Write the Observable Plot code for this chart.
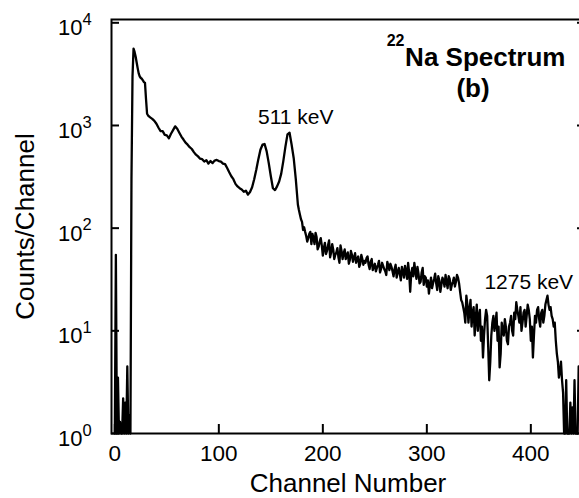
<!DOCTYPE html>
<html><head><meta charset="utf-8">
<script src="https://cdn.jsdelivr.net/npm/d3@7"></script>
<script src="https://cdn.jsdelivr.net/npm/@observablehq/plot@0.6"></script>
<style>
html,body{margin:0;padding:0;background:#fff;overflow:hidden;}
</style></head><body><div id="chart"></div>
<script>
const channels = [
  0,1,2,3,4,5,6,7,8,9,10,11,12,13,14,15,16,17,18,19,20,21,22,23,24,25,26,27,28,29,30,31,32,
  34,36,38,40,42,44,46,48,50,52,
  54,56,58,60,62,64,66,68,70,72,
  74,76,78,80,82,84,86,88,90,92,
  94,96,98,100,102,104,106,108,110,112,
  114,116,118,120,122,124,126,128,130,132,
  134,136,138,140,142,144,146,148,150,152,
  154,156,158,160,162,164,166,168,170,172,
  174,
  176,177,178,179,180,181,182,183,184,185,
  186,187,188,189,190,191,192,193,194,195,
  196,197,198,199,200,201,202,203,204,205,
  206,207,208,209,210,211,212,213,214,215,
  216,217,218,219,220,221,222,223,224,225,
  226,227,228,229,230,231,232,233,234,235,
  236,237,238,239,240,241,242,243,244,245,
  246,247,248,249,250,251,252,253,254,255,
  256,257,258,259,260,261,262,263,264,265,
  266,267,268,269,270,271,272,273,274,275,
  276,277,278,279,280,281,282,283,284,285,
  286,287,288,289,290,291,292,293,294,295,
  296,297,298,299,300,301,302,303,304,305,
  306,307,308,309,310,311,312,313,314,315,
  316,317,318,319,320,321,322,323,324,325,
  326,327,328,329,330,331,332,333,334,335,
  336,337,338,339,340,341,342,343,344,345,
  346,347,348,349,350,351,352,353,354,355,
  356,357,358,359,360,361,362,363,364,365,
  366,367,368,369,370,371,372,373,374,375,
  376,377,378,379,380,381,382,383,384,385,
  386,387,388,389,390,391,392,393,394,395,
  396,397,398,399,400,401,402,403,404,405,
  406,407,408,409,410,411,412,413,414,415,
  416,417,418,419,420,421,422,423,424,425,
  426,427,428,429,430,431,432,433,434,435,
  436,437,438,439,440,441,442,443,444,445,
  446
];
const counts = [
  1,55,1,3.5,1,1.3,1,1,2.2,1,2,1,4.5,1,1.5,1,300,3000,5600,5200,4700,4100,3600,3200,3000,2900,2850,2750,2650,2600,1800,1300,1250,
  1200,1160,1110,1040,950,880,880,810,800,750,
  830,900,980,930,850,780,730,680,650,615,
  590,550,520,500,475,470,445,460,425,450,
  430,455,462,450,445,425,420,385,350,320,
  300,270,255,245,238,226,232,212,225,250,
  300,370,470,580,650,660,560,430,320,245,
  235,255,285,340,450,620,820,850,650,480,
  300,
  170,150,135,122,115,96,102,92,84,74,
  80,88,92,70,88,80,70,90,82,62,
  66,74,80,68,54,64,72,56,60,68,
  76,52,58,70,62,50,55,58,64,52,
  46,68,60,50,57,62,50,54,58,45,
  49,60,55,47,52,57,46,50,53,42,
  45,55,50,44,48,46,51,53,44,40,
  47,50,39,42,45,38,41,44,48,37,
  40,46,43,40,38,35,47,43,39,45,
  42,38,34,40,44,33,37,41,36,31,
  42,38,33,43,38,32,46,37,24,36,
  41,34,46,38,32,42,36,29,30,37,
  41,28,34,33,27,31,23,28,33,26,
  29,32,36,29,25,34,31,24,28,33,
  31,27,35,30,26,34,32,25,28,30,
  33,27,30,35,33,29,24,20,19,17,
  15,12,22,18,12,16,20,11,15,17,
  9,13,18,10,14,16,8,11,5.5,9,
  13,16,14,7,3.3,5,9,12,14,10,
  12,15,8,11,4.4,6,12,10,9,13,
  11,8,7.4,11,12,14,10,9,15,13,
  19,16,14,12,17,10,12,15,16,11,
  14,18,16,13,8,11,5.5,9,14,12,
  16,17,13,11,15,16,12,14,18,20,
  22,18,16,17,14,13,11,12,8,6,
  5,3.5,4,5,3.3,2.5,1,1,3.3,1,
  1,1,2,1,1.8,1,3.3,1,1,1,
  4.5
];
const xTicks = [0, 100, 200, 300, 400];
const yTicks = [1, 10, 100, 1000, 10000];
const yTickBase = ["10", "10", "10", "10", "10"];
const yTickExp = ["0", "1", "2", "3", "4"];
const xLabel = "Channel Number";
const yLabel = "Counts/Channel";
const titleSup = "22";
const titleMain = "Na Spectrum";
const panelTag = "(b)";
const peakLabels = ["511 keV", "1275 keV"];
const peakChannels = [174, 398];
const peakCounts = [1205, 29.7];

const data = channels.map((c, i) => ({channel: c, counts: counts[i]}));
const annotations = peakLabels.map((l, i) => ({label: l, ch: peakChannels[i], counts: peakCounts[i]}));
const FONT = "'Liberation Sans', Arial, Helvetica, sans-serif";

const chart = Plot.plot({
  width: 579, height: 498,
  marginLeft: 111, marginRight: -5, marginTop: 19, marginBottom: 65,
  x: {type: "linear", domain: [-3.2, 451.6]},
  y: {type: "log", domain: [1, 10770]},
  style: {fontFamily: FONT, background: "white", color: "black"},
  marks: [
    Plot.line(data, {x: "channel", y: "counts", stroke: "black", strokeWidth: 2.3, strokeLinejoin: "round"}),
    Plot.frame({stroke: "black", strokeWidth: 2}),
    Plot.axisX(xTicks, {anchor: "bottom", tickSize: 9, dy: -9, tickFormat: () => "", strokeWidth: 2, label: null}),
    Plot.axisX(xTicks, {anchor: "bottom", tickSize: 0, tickPadding: 11.5, fontSize: 22.5, label: null}),
    Plot.axisY(yTicks, {anchor: "left", tickSize: 8, dx: 8, tickFormat: () => "", strokeWidth: 2, label: null}),
    Plot.axisY(yTicks, {anchor: "right", tickSize: 8, dx: -8, tickFormat: () => "", strokeWidth: 2, label: null}),
    Plot.text(yTicks, {y: d => d, text: (d, i) => yTickBase[i], frameAnchor: "left", textAnchor: "end", lineAnchor: "middle", dx: -29, dy: 5.6, fontSize: 22}),
    Plot.text(yTicks, {y: d => d, text: (d, i) => yTickExp[i], frameAnchor: "left", textAnchor: "start", lineAnchor: "middle", dx: -29, dy: -3, fontSize: 16.5}),
    Plot.text([xLabel], {text: d => d, frameAnchor: "bottom", textAnchor: "middle", lineAnchor: "middle", dy: 50, fontSize: 26}),
    Plot.text([yLabel], {text: d => d, frameAnchor: "left", textAnchor: "middle", lineAnchor: "middle", dx: -86.3, rotate: -90, fontSize: 26}),
    Plot.text([titleMain], {text: d => d, frameAnchor: "top-right", textAnchor: "end", lineAnchor: "middle", dx: -19, dy: 38, fontSize: 26, fontWeight: "bold"}),
    Plot.text([titleSup], {text: d => d, frameAnchor: "top-right", textAnchor: "end", lineAnchor: "middle", dx: -180, dy: 21, fontSize: 16, fontWeight: "bold"}),
    Plot.text([panelTag], {text: d => d, frameAnchor: "top-right", textAnchor: "middle", lineAnchor: "middle", dx: -111.5, dy: 69.4, fontSize: 26, fontWeight: "bold"}),
    Plot.text(annotations, {x: "ch", y: "counts", text: "label", fontSize: 21})
  ]
});
document.getElementById("chart").appendChild(chart);
</script>
</body></html>
